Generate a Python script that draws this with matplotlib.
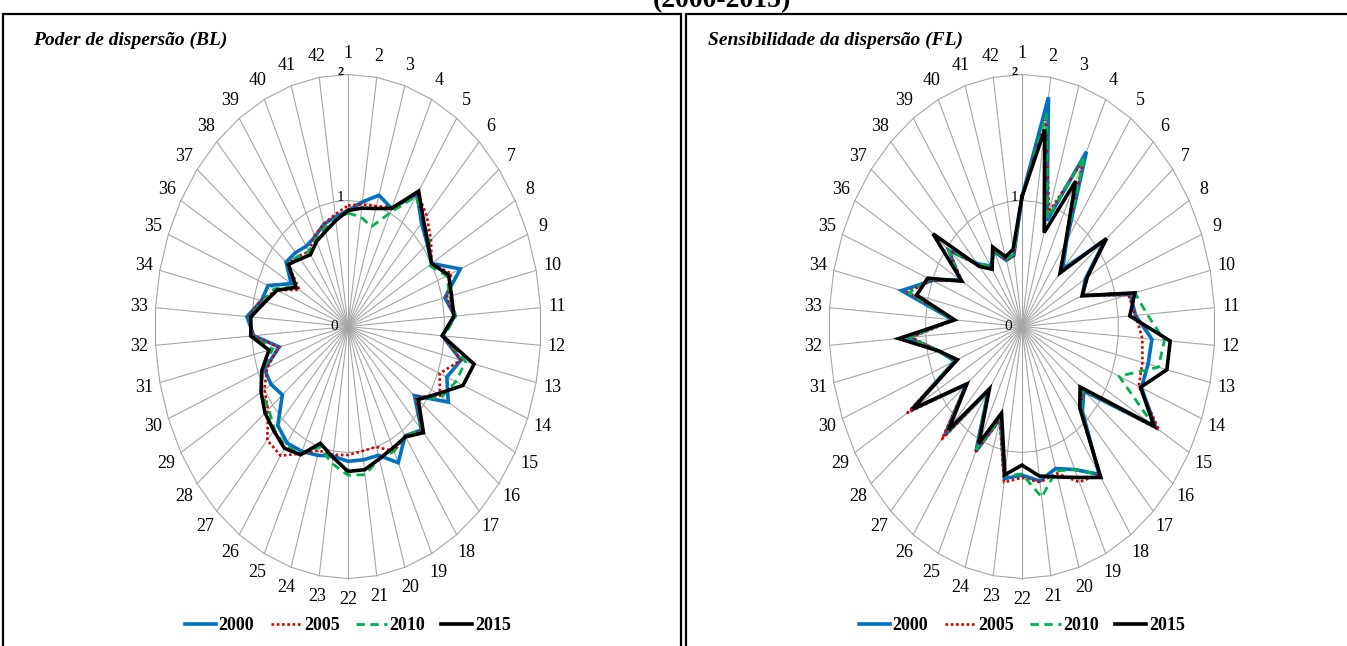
import numpy as np
import matplotlib
matplotlib.use("Agg")
import matplotlib.pyplot as plt
from matplotlib.lines import Line2D

plt.rcParams['font.family'] = ['Liberation Serif', 'DejaVu Serif']

# setores 1..42
setores = [str(i) for i in range(1, 43)]
anos = ['2000', '2005', '2010', '2015']

# Poder de dispersao (BL)
bl_2000 = [0.92, 1.00, 1.09, 1.04, 1.27, 1.12, 1.05, 1.00, 1.25, 1.03, 1.11, 0.98, 1.20, 1.10,
           1.20, 0.88, 1.12, 1.05, 1.20, 1.07, 1.07, 1.07, 1.04, 1.07, 1.10, 1.12, 1.07, 0.87,
           0.92, 0.93, 0.73, 0.98, 1.05, 0.92, 0.89, 0.68, 0.82, 0.80, 0.77, 0.79, 0.85, 0.88]
bl_2005 = [0.96, 0.98, 1.00, 1.05, 1.28, 1.20, 1.10, 1.00, 1.15, 1.05, 1.10, 0.98, 1.20, 1.02,
           1.10, 0.90, 1.12, 1.05, 1.10, 1.00, 1.00, 1.02, 1.03, 1.03, 1.12, 1.24, 1.23, 1.06,
           1.00, 0.90, 0.74, 0.98, 1.03, 0.93, 0.79, 0.58, 0.80, 0.76, 0.72, 0.80, 0.85, 0.90]
bl_2010 = [0.90, 0.88, 0.83, 1.00, 1.25, 1.15, 1.08, 0.97, 1.10, 1.08, 1.12, 1.00, 1.25, 1.20,
           1.12, 0.92, 1.12, 1.05, 1.10, 1.10, 1.19, 1.18, 1.10, 1.00, 1.12, 1.15, 1.12, 1.05,
           1.04, 0.95, 0.80, 1.00, 1.02, 0.90, 0.82, 0.63, 0.80, 0.76, 0.72, 0.77, 0.82, 0.86]
bl_2015 = [0.92, 0.95, 0.98, 1.04, 1.30, 1.15, 1.06, 1.00, 1.12, 1.10, 1.10, 0.98, 1.34, 1.28,
           1.07, 0.93, 1.15, 1.06, 1.07, 1.10, 1.15, 1.15, 1.05, 0.97, 1.13, 1.17, 1.13, 1.10,
           1.04, 0.96, 0.84, 1.01, 1.01, 0.88, 0.79, 0.62, 0.79, 0.73, 0.69, 0.75, 0.79, 0.85]

# Sensibilidade da dispersao (FL)
fl_2000 = [1.03, 1.84, 0.88, 1.54, 0.82, 0.62, 1.10, 0.76, 0.67, 1.15, 1.18, 1.35, 1.34, 1.33,
           1.60, 0.82, 0.92, 1.42, 1.26, 1.18, 1.24, 1.18, 1.22, 0.76, 1.10, 0.62, 1.18, 0.74,
           1.33, 0.75, 0.88, 1.18, 0.72, 1.28, 1.00, 0.74, 0.97, 0.68, 0.58, 0.66, 0.55, 0.57]
fl_2005 = [1.03, 1.66, 0.95, 1.47, 0.80, 0.60, 1.10, 0.78, 0.66, 1.13, 1.18, 1.25, 1.28, 1.30,
           1.64, 0.80, 0.90, 1.42, 1.37, 1.22, 1.25, 1.20, 1.25, 0.78, 1.10, 0.62, 1.22, 0.74,
           1.37, 0.74, 0.88, 1.15, 0.70, 1.22, 1.00, 0.72, 0.97, 0.66, 0.56, 0.67, 0.55, 0.57]
fl_2010 = [1.03, 1.70, 0.90, 1.50, 0.80, 0.60, 1.10, 0.78, 0.68, 1.20, 1.30, 1.48, 1.45, 1.08,
           1.58, 0.80, 0.90, 1.42, 1.26, 1.20, 1.37, 1.17, 1.20, 0.76, 1.08, 0.62, 1.15, 0.74,
           1.32, 0.75, 0.88, 1.17, 0.72, 1.20, 1.02, 0.74, 0.97, 0.68, 0.58, 0.67, 0.56, 0.58]
fl_2015 = [1.03, 1.58, 0.78, 1.28, 0.80, 0.58, 1.12, 0.78, 0.67, 1.20, 1.12, 1.54, 1.54, 1.32,
           1.58, 0.77, 0.88, 1.45, 1.33, 1.25, 1.20, 1.10, 1.19, 0.72, 1.03, 0.60, 1.12, 0.73,
           1.31, 0.72, 0.88, 1.28, 0.70, 1.12, 1.05, 0.72, 1.18, 0.65, 0.55, 0.70, 0.58, 0.62]

cores = ['#0070C0', '#D00000', '#00B050', '#000000']
estilos = ['-', (0, (1, 1)), (0, (3, 2)), '-']
larguras = [2.6, 1.9, 2.0, 2.6]

W, H = 1347, 646
fig = plt.figure(figsize=(W / 100, H / 100), dpi=100)

# moldura (coordenadas em pixels)
fundo = fig.add_axes([0, 0, 1, 1])
fundo.set_xlim(0, W)
fundo.set_ylim(H, 0)
fundo.axis('off')
for xs, ys in [([3, 3, 681, 681], [H, 14, 14, H]), ([686, 686, W], [H, 14, 14])]:
    fundo.plot(xs, ys, color='black', lw=1.6, solid_joinstyle='miter')
fundo.text(722, 7, '(2000-2015)', ha='center', va='baseline', fontsize=20, fontweight='bold')

n = len(setores)
ang = np.arange(n) * 2 * np.pi / n
sx, cy = np.sin(ang), np.cos(ang)

ax_px = 96.5   # pixels por unidade (horizontal)
ay_px = 126.0  # pixels por unidade (vertical)
lim = 2.5


def radar(cx, titulo, tx, series):
    ax = fig.add_axes([(cx - lim * ax_px) / W, (H - 326.5 - lim * ay_px) / H,
                       2 * lim * ax_px / W, 2 * lim * ay_px / H])
    ax.set_xlim(-lim, lim)
    ax.set_ylim(-lim, lim)
    ax.axis('off')
    # raios e grades
    for i in range(n):
        ax.plot([0, 2 * sx[i]], [0, 2 * cy[i]], color='#A6A6A6', lw=0.8, zorder=1)
    for r in [1, 2]:
        ax.plot(np.append(r * sx, r * sx[0]), np.append(r * cy, r * cy[0]),
                color='#A6A6A6', lw=0.8, zorder=1)
    for i, lab in enumerate(setores):
        ax.text(2.17 * sx[i], 2.17 * cy[i], lab, ha='center', va='center', fontsize=13)
    for r in [0, 1, 2]:
        ax.text(-0.04 - (0.06 if r == 0 else 0), r + (0.02 if r else 0), str(r),
                ha='right', va='center', fontsize=11 if r < 2 else 9, fontweight='bold' if r == 2 else 'normal')
    for k, vals in enumerate(series):
        v = np.array(vals)
        ax.plot(np.append(v * sx, v[0] * sx[0]), np.append(v * cy, v[0] * cy[0]),
                color=cores[k], ls=estilos[k], lw=larguras[k], zorder=2 + k,
                solid_joinstyle='miter')
    fundo.text(tx, 40, titulo, ha='left', va='center', fontsize=14,
               fontweight='bold', fontstyle='italic')
    handles = [Line2D([], [], color=cores[k], ls=estilos[k], lw=larguras[k]) for k in range(4)]
    fig.legend(handles, anos, loc='center', bbox_to_anchor=(cx / W, 1 - 626 / H), ncol=4,
               frameon=False, handlelength=1.7, handletextpad=0.15, columnspacing=0.9,
               prop={'weight': 'bold', 'size': 13})


radar(348, 'Poder de dispersão (BL)', 33, [bl_2000, bl_2005, bl_2010, bl_2015])
radar(1022, 'Sensibilidade da dispersão (FL)', 708, [fl_2000, fl_2005, fl_2010, fl_2015])

fig.savefig('out.png', dpi=100)
